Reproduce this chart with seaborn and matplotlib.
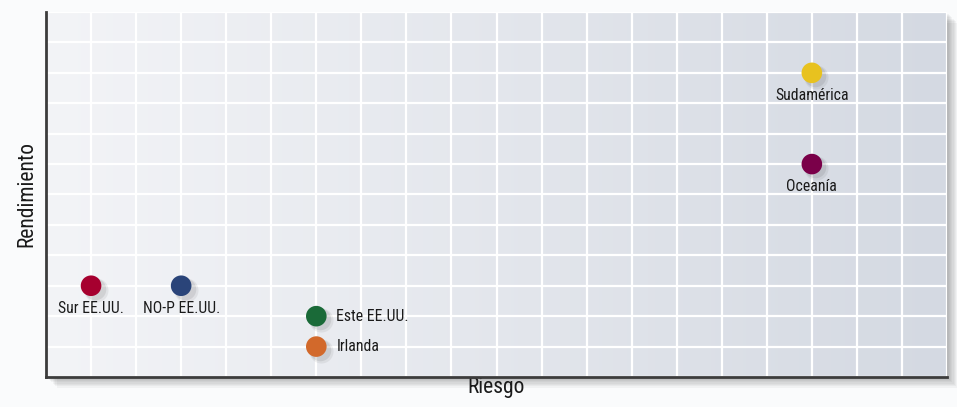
import numpy as np
import pandas as pd
import matplotlib
matplotlib.use("Agg")
import matplotlib.pyplot as plt
import matplotlib.patches as mpatches
import seaborn as sns

regions = ["Sur EE.UU.", "NO-P EE.UU.", "Este EE.UU.", "Irlanda", "Sudamérica", "Oceanía"]
riesgo = [1, 3, 6, 6, 17, 17]
rendimiento = [3, 3, 2, 1, 10, 7]
colors = ["#A6002F", "#2A4479", "#1A6A38", "#D2692B", "#E8C21F", "#7A0049"]
label_pos = ["below", "below", "right", "right", "below", "below"]

df = pd.DataFrame({"Riesgo": riesgo, "Rendimiento": rendimiento, "Región": regions})

sns.set_style("white")
plt.rcParams["font.family"] = ["Roboto Condensed", "DejaVu Sans"]

fig = plt.figure(figsize=(9.57, 4.07), dpi=100)
fig.patch.set_facecolor("#FAFBFC")
ax = fig.add_axes([46/957, 1 - 377/407, 901/957, 365/407])

# soft shadow behind axes
for i in range(8):
    off = 1.5 + i * 1.3
    r = mpatches.Rectangle(((46 + off) / 957, 1 - (377 + off) / 407), 901 / 957, 365 / 407,
                           transform=fig.transFigure, facecolor="#000000", alpha=0.035,
                           edgecolor="none", zorder=-5)
    fig.patches.append(r)

ax.set_xlim(0, 20)
ax.set_ylim(0, 12)

# gradient background
grad = np.linspace(0, 1, 256).reshape(1, -1)
cmap = matplotlib.colors.LinearSegmentedColormap.from_list("bg", ["#F3F4F7", "#D4D9E2"])
ax.imshow(grad, extent=[0, 20, 0, 12], aspect="auto", cmap=cmap, zorder=0)

ax.set_xticks(np.arange(0, 21, 1))
ax.set_yticks(np.arange(0, 13, 1))
ax.grid(True, color="white", linewidth=1.6, zorder=0.5)
ax.set_axisbelow(True)
ax.tick_params(length=0, labelbottom=False, labelleft=False)

for s in ["top", "right"]:
    ax.spines[s].set_visible(False)
for s in ["left", "bottom"]:
    ax.spines[s].set_color("#3C3C3C")
    ax.spines[s].set_linewidth(2)

# marker shadows
for k, (dx, dy, a, sz) in enumerate([(0.10, -0.13, 0.06, 300), (0.08, -0.10, 0.08, 240)]):
    ax.scatter(np.array(riesgo) + dx, np.array(rendimiento) + dy, s=sz, color="#000000",
               alpha=a, linewidths=0, zorder=2)

sns.scatterplot(data=df, x="Riesgo", y="Rendimiento", hue="Región", palette=colors,
                s=220, linewidth=0, legend=False, ax=ax, zorder=3)

for x, y, name, pos in zip(riesgo, rendimiento, regions, label_pos):
    if pos == "below":
        ax.annotate(name, (x, y), xytext=(0, -16.5), textcoords="offset points",
                    ha="center", va="center", fontsize=11.3, color="#1a1a1a")
    else:
        ax.annotate(name, (x, y), xytext=(14.5, 0), textcoords="offset points",
                    ha="left", va="center", fontsize=11.3, color="#1a1a1a")

ax.set_xlabel("Riesgo", fontsize=15.5, color="#1a1a1a", labelpad=0)
ax.set_ylabel("Rendimiento", fontsize=15.5, color="#1a1a1a", labelpad=6)
ax.xaxis.label.set_visible(True)
ax.yaxis.label.set_visible(True)

fig.savefig("out.png", dpi=100, facecolor=fig.get_facecolor())
